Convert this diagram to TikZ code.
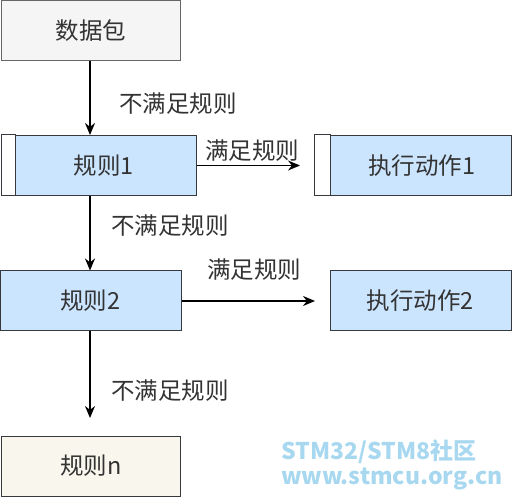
\documentclass[tikz,border=0pt]{standalone}
\usepackage{fontspec}
\setmainfont{Noto Sans CJK SC}
\usetikzlibrary{arrows.meta}
\usepackage{xcolor}
\definecolor{pktfill}{HTML}{F5F5F5}
\definecolor{pktline}{HTML}{666666}
\definecolor{rulefill}{HTML}{CCE5FF}
\definecolor{lastfill}{HTML}{F9F7ED}
\definecolor{boxline}{HTML}{36393D}
\definecolor{marktext}{HTML}{A8D8F0}

\begin{document}
\begin{tikzpicture}[x=1pt,y=-1pt]
    \tikzstyle{box}=[rectangle,draw=boxline,line width=1pt,minimum height=60pt,inner sep=0pt,text=black!80,font=\fontsize{23.5}{26}\selectfont]
    \tikzstyle{packet}=[box,fill=pktfill,draw=pktline]
    \tikzstyle{rule}=[box,fill=rulefill]
    \tikzstyle{last}=[box,fill=lastfill]
    \tikzstyle{flow}=[-{Stealth[length=12pt,width=10pt]},line width=1.2pt,black]
    \tikzstyle{tag}=[font=\fontsize{23.5}{26}\selectfont,text=black!80,inner sep=0pt]
    \useasboundingbox (0,0) rectangle (512,497);
    \node[packet,minimum width=179pt] (pkt) at (91,30.5) {数据包};
    \node[rule,minimum width=194pt] (r1) at (99,165.5) {};
    \draw[boxline,fill=white,line width=1pt] (r1.north west) rectangle ([xshift=14pt]r1.south west);
    \node[tag] at (104,165.5) {规则1};
    \node[rule,minimum width=196pt] (a1) at (413,165.5) {};
    \draw[boxline,fill=white,line width=1pt] (a1.north west) rectangle ([xshift=16pt]a1.south west);
    \node[tag] at (422,165.5) {执行动作1};
    \node[rule,minimum width=181pt] (r2) at (90.5,301) {规则2};
    \node[rule,minimum width=181pt] (a2) at (420.5,301) {执行动作2};
    \node[last,minimum width=179pt] (rn) at (91,466) {规则n};
    % connectors
    \draw[flow] (pkt.south -| 90,0) -- (r1.north -| 90,0);
    \node[tag,anchor=west] at (119,104) {不满足规则};
    \draw[flow] (r1.east) -- (300,165.5);
    \node[tag,anchor=west] at (205,151) {满足规则};
    \draw[flow] (r1.south -| 90,0) -- (r2.north -| 90,0);
    \node[tag,anchor=west] at (111,226) {不满足规则};
    \draw[flow] (r2.east) -- (a2.west -| 315,0);
    \node[tag,anchor=west] at (207,270) {满足规则};
    \draw[flow] (r2.south -| 90,0) -- (90,418);
    \node[tag,anchor=west] at (111,391) {不满足规则};
    % watermark
    \node[text=marktext,font=\fontsize{23}{25}\bfseries,anchor=west,inner sep=0pt] (mk1) at (281,452) {STM32/STM8社区};
    \node[text=marktext,font=\fontsize{23}{25}\bfseries,anchor=west,inner sep=0pt] (mk2) at (281,479) {www.stmcu.org.cn};
\end{tikzpicture}
\end{document}
